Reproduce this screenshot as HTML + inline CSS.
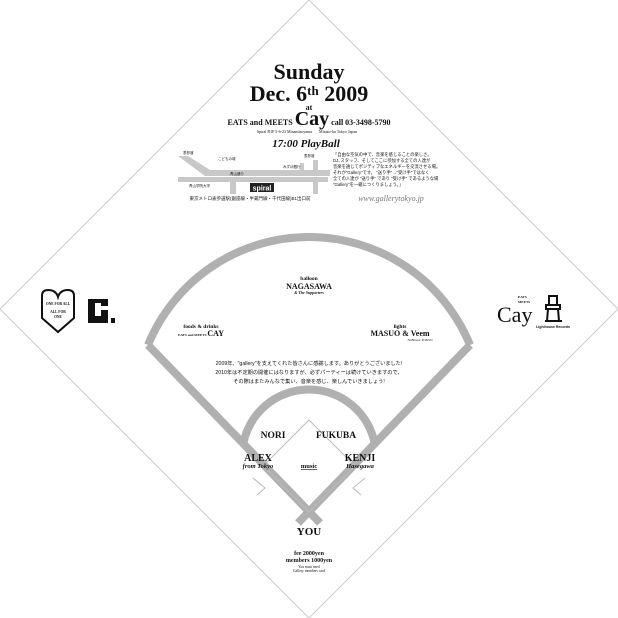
<!DOCTYPE html>
<html><head><meta charset="utf-8"><style>
html,body{margin:0;padding:0;background:#fff}
svg{display:block}
text{font-family:"Liberation Serif","Noto Serif CJK SC",serif;fill:#111}
.j{font-family:"Liberation Sans","Noto Sans CJK JP",sans-serif}
</style></head><body>
<svg width="618" height="618" viewBox="0 0 618 618" xmlns="http://www.w3.org/2000/svg">
<polygon points="309,0 618,309 309,618 0,309" fill="none" stroke="#ccc" stroke-width="1"/>
<!-- field -->
<g fill="none" stroke="#b0b0b0" stroke-width="8" stroke-linejoin="miter">
<path d="M148,345 L320,523"/>
<path d="M470,345 L298,523"/>
<path d="M148,345 A174,174 0 0 1 470,345"/>
<path d="M243,445 A67,67 0 0 1 375,445"/>
</g>
<polygon points="309,420 355,466 309,512 263,466" fill="none" stroke="#bbb" stroke-width="1"/>
<path d="M253,478 L265,488 L257,495" fill="none" stroke="#bbb" stroke-width="1"/>
<path d="M365,478 L353,488 L361,495" fill="none" stroke="#bbb" stroke-width="1"/>
<!-- header -->
<g text-anchor="middle" font-weight="bold">
<text x="309" y="79" font-size="22">Sunday</text>
<text x="309" y="101" font-size="22">Dec. 6<tspan font-size="13" dy="-6">th</tspan><tspan dy="6"> 2009</tspan></text>
<text x="309" y="110" font-size="8">at</text>
<text x="309" y="125" font-size="8">EATS and MEETS <tspan font-size="20">Cay</tspan> call 03-3498-5790</text>
<text x="307" y="133" font-size="4" font-weight="normal" fill="#555">Spiral B1F 5-6-23 Minamiaoyama &#160;&#160;&#160;&#160;&#160; Minato-ku Tokyo Japan</text>
<text x="306" y="147" font-size="11" font-style="italic">17:00 PlayBall</text>
</g>
<!-- map -->
<g fill="#c8c8c8">
<polygon points="178,156 188,156 210,170 330,170 330,176 205,176"/>
<rect x="178" y="177" width="150" height="5"/>
<rect x="230" y="182" width="6" height="12"/>
<rect x="313" y="182" width="5" height="12"/>
<rect x="313" y="160" width="5" height="10"/>
<rect x="300" y="163" width="4" height="7"/>
</g>
<rect x="250" y="183" width="24" height="9" fill="#222"/>
<text x="262" y="190.5" font-size="7" font-weight="bold" text-anchor="middle" style="fill:#fff" class="j">spiral</text>
<g class="j" font-size="3.5" fill="#333">
<text x="183" y="154" class="j">表参道</text>
<text x="218" y="160" class="j">こどもの城</text>
<text x="283" y="168" class="j">みずほ銀行</text>
<text x="304" y="157" class="j">表参道</text>
<text x="230" y="175" class="j">青山通り</text>
<text x="189" y="187" class="j">青山学院大学</text>
</g>
<text x="250" y="200" font-size="4.5" text-anchor="middle" class="j">東京メトロ表参道駅(銀座線・半蔵門線・千代田線)B1出口前</text>
<g class="j" font-size="4.3">
<text x="333" y="156" class="j">「自由な空気の中で、音楽を感じることの楽しさ。</text>
<text x="333" y="162" class="j">DJ､スタッフ、そしてここに参加する全ての人達が</text>
<text x="333" y="168" class="j">音楽を通じてポジティブなエネルギーを交流させる場。</text>
<text x="333" y="174" class="j">それが"Gallery"です。 "送り手"→"受け手"ではなく</text>
<text x="333" y="180" class="j">全ての人達が "送り手" であり "受け手" であるような場</text>
<text x="333" y="186" class="j">"Gallery"を一緒につくりましょう。」</text>
</g>
<text x="391" y="201" font-size="8" font-style="italic" text-anchor="middle" style="fill:#777">www.gallerytokyo.jp</text>
<!-- left logos -->
<path d="M42,296 Q42,290 48,290 Q56,290 58,297 Q60,290 68,290 Q74,290 74,296 L74,318 L58,332 L42,318 Z" fill="none" stroke="#111" stroke-width="2"/>
<g font-size="3.6" font-weight="bold" text-anchor="middle"><text x="58" y="305">ONE FOR ALL</text><text x="58" y="313">ALL FOR</text><text x="58" y="318">ONE</text></g>
<path d="M88,299 L108,299 L108,306 L101,306 L101,303 L95,303 L95,316 L101,316 L101,310 L108,310 L108,323 L88,323 Z" fill="#111"/>
<rect x="111" y="318" width="4" height="5" fill="#111"/>
<!-- right logos -->
<text x="497" y="322" font-size="22" font-family="Liberation Serif">Cay</text>
<g font-size="3.5" font-weight="bold"><text x="518" y="298">EATS</text><text x="518" y="303">MEETS</text></g>
<path d="M549,296 L557,296 L557,305 L549,305 Z M546,305 L560,305 L560,309 L546,309 Z M548,309 L547,321 L559,321 L558,309 M545,321 L562,321" fill="none" stroke="#111" stroke-width="2"/>
<text x="553" y="328" font-size="3.5" text-anchor="middle" class="j" font-weight="bold">Lighthouse Records</text>
<!-- field texts -->
<g text-anchor="middle">
<text x="309" y="280" font-size="5.5" font-weight="bold">balloon</text>
<text x="309" y="289" font-size="8" font-weight="bold">NAGASAWA</text>
<text x="309" y="294" font-size="4" font-style="italic" font-weight="bold">&amp; The Supporters</text>
<text x="201" y="328" font-size="5.5" font-weight="bold">foods &amp; drinks</text>
<text x="201" y="336" font-size="3.5" font-weight="bold">EATS and MEETS <tspan font-size="8">CAY</tspan></text>
<text x="400" y="328" font-size="5.5" font-weight="bold">lights</text>
<text x="400" y="336" font-size="8" font-weight="bold">MASUO &amp; Veem</text>
<text x="420" y="341" font-size="3.5" font-style="italic" fill="#444">NoHouse TOKYO</text>
</g>
<g text-anchor="middle" font-size="5.2" class="j">
<text x="309" y="365" class="j">2009年、"gallery"を支えてくれた皆さんに感謝します。ありがとうございました!</text>
<text x="309" y="374" class="j">2010年は不定期の開催にはなりますが、必ずパーティーは続けていきますので、</text>
<text x="309" y="383" class="j">その際はまたみんなで集い、音楽を感じ、楽しんでいきましょう!</text>
</g>
<g text-anchor="middle" font-weight="bold">
<text x="273" y="438" font-size="9.5">NORI</text>
<text x="336" y="438" font-size="9.5">FUKUBA</text>
<text x="258" y="461" font-size="10">ALEX</text>
<text x="258" y="468" font-size="6.5" font-style="italic">from Tokyo</text>
<text x="309" y="468" font-size="6.5" text-decoration="underline">music</text>
<text x="360" y="461" font-size="10">KENJI</text>
<text x="360" y="468" font-size="6.5" font-style="italic">Hasegawa</text>
<text x="309" y="535" font-size="11">YOU</text>
<text x="309" y="555" font-size="6">fee 2000yen</text>
<text x="309" y="562" font-size="6">members 1000yen</text>
<text x="309" y="568" font-size="3.6" font-weight="normal" fill="#444">You must need</text>
<text x="309" y="572" font-size="3.6" font-weight="normal" fill="#444">Gallery members card</text>
</g>
</svg>
</body></html>
